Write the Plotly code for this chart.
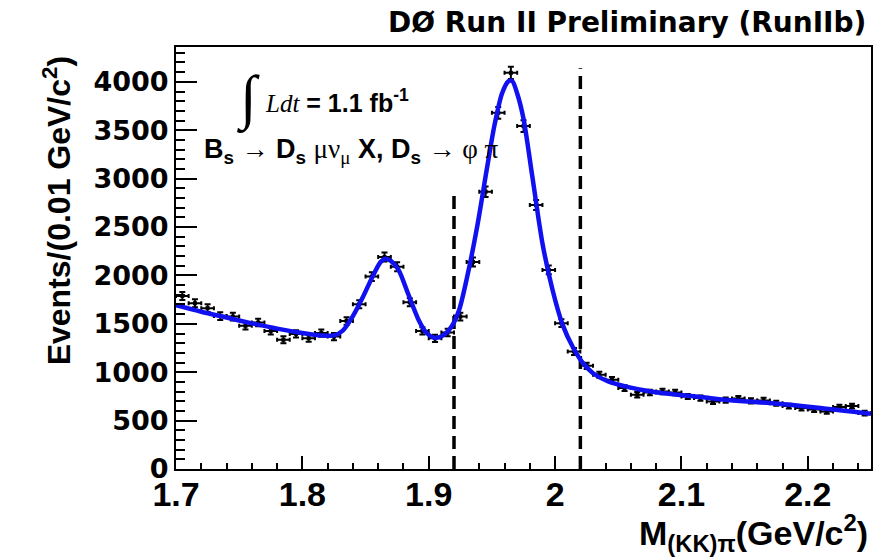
import plotly.graph_objects as go

# ---- data ----
mass_bins = [1.705, 1.715, 1.725, 1.735, 1.745, 1.755, 1.765, 1.775, 1.785, 1.795,
             1.805, 1.815, 1.825, 1.835, 1.845, 1.855, 1.865, 1.875, 1.885, 1.895,
             1.905, 1.915, 1.925, 1.935, 1.945, 1.955, 1.965, 1.975, 1.985, 1.995,
             2.005, 2.015, 2.025, 2.035, 2.045, 2.055, 2.065, 2.075, 2.085, 2.095,
             2.105, 2.115, 2.125, 2.135, 2.145, 2.155, 2.165, 2.175, 2.185, 2.195,
             2.205, 2.215, 2.225, 2.235, 2.245]
events = [1788, 1713, 1662, 1580, 1575, 1479, 1513, 1427, 1335, 1396,
          1352, 1404, 1368, 1530, 1703, 1988, 2190, 2090, 1723, 1427,
          1350, 1410, 1575, 2139, 2865, 3680, 4093, 3543, 2728, 2057,
          1507, 1214, 1066, 973, 921, 836, 767, 791, 801, 791,
          749, 733, 698, 712, 728, 705, 708, 680, 650, 630,
          615, 595, 640, 650, 578]
event_errors = [42, 41, 41, 40, 40, 38, 39, 38, 37, 37,
                37, 37, 37, 39, 41, 45, 47, 46, 42, 38,
                37, 38, 40, 46, 54, 61, 64, 60, 52, 45,
                39, 35, 33, 31, 30, 29, 28, 28, 28, 28,
                27, 27, 26, 27, 27, 27, 27, 26, 25, 25,
                25, 24, 25, 25, 24]
half_bin = [0.005] * len(mass_bins)

fit_x = [1.700, 1.720, 1.740, 1.760, 1.780, 1.800, 1.815, 1.825, 1.832, 1.840,
         1.848, 1.856, 1.862, 1.866, 1.870, 1.876, 1.884, 1.892, 1.898, 1.905,
         1.912, 1.918, 1.924, 1.930, 1.938, 1.946, 1.952, 1.958, 1.963, 1.966,
         1.970, 1.975, 1.982, 1.990, 1.998, 2.006, 2.014, 2.022, 2.030, 2.042,
         2.058, 2.076, 2.097, 2.116, 2.134, 2.170, 2.210, 2.250]
fit_y = [1692, 1625, 1565, 1505, 1450, 1405, 1380, 1380, 1430, 1580,
         1780, 2000, 2140, 2172, 2150, 2060, 1800, 1540, 1410, 1355,
         1385, 1470, 1640, 1960, 2480, 3100, 3550, 3880, 4005, 4010,
         3880, 3620, 3020, 2332, 1850, 1489, 1260, 1095, 990, 905,
         846, 801, 767, 743, 715, 681, 630, 570]

window_x = [1.92, 2.02]
window_top = [2830, 4140]

x_tickvals = [1.7, 1.8, 1.9, 2.0, 2.1, 2.2]
x_ticktext = ["1.7", "1.8", "1.9", "2", "2.1", "2.2"]
y_tickvals = [0, 500, 1000, 1500, 2000, 2500, 3000, 3500, 4000]
y_ticktext = ["0", "500", "1000", "1500", "2000", "2500", "3000", "3500", "4000"]

x_range = [1.7, 2.25]
y_range = [0, 4360]

# ---- figure ----
fig = go.Figure()

for wx, wt in zip(window_x, window_top):
    fig.add_trace(go.Scatter(x=[wx, wx], y=[0, wt], mode="lines",
                             line=dict(color="black", width=3.5, dash="13px,7px"),
                             hoverinfo="skip", showlegend=False))

fig.add_trace(go.Scatter(
    x=mass_bins, y=events, mode="markers",
    marker=dict(color="black", size=4, symbol="square"),
    error_x=dict(type="data", array=half_bin, color="black", thickness=2, width=2),
    error_y=dict(type="data", array=event_errors, color="black", thickness=2, width=3),
    showlegend=False))

fig.add_trace(go.Scatter(x=fit_x, y=fit_y, mode="lines",
                         line=dict(color="#1010f0", width=4.5, shape="spline", smoothing=0.8),
                         showlegend=False))

BOLD = "Liberation Sans"
axis_common = dict(showline=True, linecolor="black", linewidth=2, mirror=True,
                   ticks="inside", tickcolor="black", tickwidth=2,
                   showgrid=False, zeroline=False)

fig.update_xaxes(range=x_range, tickvals=x_tickvals, ticktext=x_ticktext,
                 ticklen=13, ticklabelstandoff=-6,
                 minor=dict(dtick=0.02, tick0=1.7, ticks="inside", ticklen=6,
                            tickwidth=2, tickcolor="black"),
                 tickfont=dict(family=BOLD, size=34, color="black", weight="bold"),
                 **axis_common)
fig.update_yaxes(range=y_range, tickvals=y_tickvals, ticktext=y_ticktext,
                 ticklen=21,
                 minor=dict(dtick=100, tick0=0, ticks="inside", ticklen=9,
                            tickwidth=2, tickcolor="black"),
                 tickfont=dict(family="DejaVu Sans", size=27, color="black", weight="bold"),
                 **axis_common)

serif = "font-family:'Liberation Serif';font-weight:normal"
annotations = [
    # header
    dict(text="DØ Run II Preliminary (RunIIb)", xref="paper", yref="paper",
         x=0.9957, y=1.058, xanchor="right", yanchor="middle", showarrow=False,
         font=dict(family="DejaVu Sans", size=28, color="black", weight="bold")),
    # axis titles
    dict(text="M<sub>(KK)π</sub>(GeV/c<sup>2</sup>)", xref="paper", yref="paper",
         x=0.9986, y=-0.151, xanchor="right", yanchor="middle", showarrow=False,
         font=dict(family=BOLD, size=34, color="black", weight="bold")),
    dict(text="Events/(0.01 GeV/c<sup>2</sup>)", xref="paper", yref="paper",
         x=-0.171, y=0.611, xanchor="center", yanchor="middle", showarrow=False,
         textangle=-90,
         font=dict(family=BOLD, size=32, color="black", weight="bold")),
    # luminosity
    dict(text="∫", xref="x", yref="y", x=1.757, y=3820, xanchor="center", yanchor="middle",
         showarrow=False, font=dict(family="Liberation Serif", size=60, color="black")),
    dict(text=f"<span style=\"{serif}\"><i>Ldt</i></span> = 1.1 fb<sup>-1</sup>",
         xref="x", yref="y", x=1.7689, y=3800, xanchor="left", yanchor="middle",
         showarrow=False, font=dict(family=BOLD, size=25, color="black", weight="bold")),
    # decay chain
    dict(text=(f"B<sub>s</sub> <span style=\"{serif}\">→</span> D<sub>s</sub> "
               f"<span style=\"{serif}\">μν<sub>μ</sub></span> X, D<sub>s</sub> "
               f"<span style=\"{serif}\">→ φ π</span>"),
         xref="x", yref="y", x=1.7206, y=3290, xanchor="left", yanchor="middle",
         showarrow=False, font=dict(family=BOLD, size=27, color="black", weight="bold")),
]

fig.update_layout(width=891, height=557,
                  margin=dict(l=176, r=20, t=47, b=88, pad=0),
                  paper_bgcolor="white", plot_bgcolor="white",
                  showlegend=False, annotations=annotations)

fig.write_html("out.html")
